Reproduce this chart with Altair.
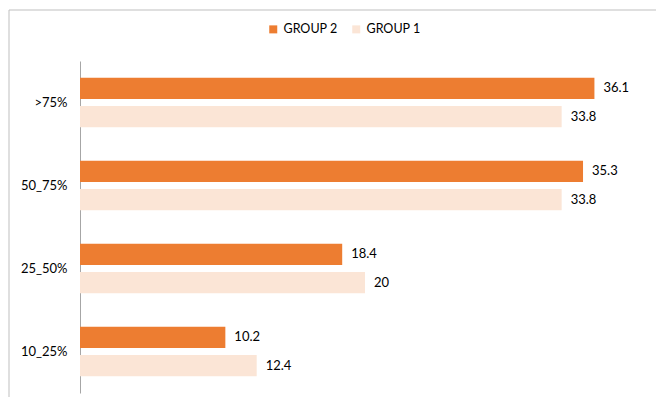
import altair as alt
import pandas as pd

categories = [">75%", "50_75%", "25_50%", "10_25%"]
groups = ["GROUP 2", "GROUP 1"]
group2 = [36.1, 35.3, 18.4, 10.2]
group1 = [33.8, 33.8, 20, 12.4]
colors = ["#ED7D31", "#FBE5D6"]

rows = []
for c, v2, v1 in zip(categories, group2, group1):
    rows.append({"cat": c, "group": "GROUP 2", "value": v2, "label": f"{v2:g}"})
    rows.append({"cat": c, "group": "GROUP 1", "value": v1, "label": f"{v1:g}"})
df = pd.DataFrame(rows)

FONT = "Lato"
W, H = 570, 332

y_enc = alt.Y("cat:N", sort=categories, title=None,
              scale=alt.Scale(paddingInner=0.406, paddingOuter=0.203),
              axis=alt.Axis(domainColor="#A6A6A6", ticks=False, labelPadding=13,
                            labelFontSize=13, labelFont=FONT, labelColor="#000000"))
yoff = alt.YOffset("group:N", sort=groups, scale=alt.Scale(paddingInner=0.25, paddingOuter=0))
x_enc = alt.X("value:Q", axis=None, scale=alt.Scale(domain=[0, 40]))

bars = alt.Chart(df).mark_bar().encode(
    x=x_enc, y=y_enc, yOffset=yoff,
    color=alt.Color("group:N", sort=groups,
                    scale=alt.Scale(domain=groups, range=colors),
                    legend=alt.Legend(title=None, orient="none", legendX=187, legendY=-38,
                                      direction="horizontal", symbolType="square",
                                      symbolSize=64, symbolStrokeWidth=0,
                                      labelFontSize=12.5, labelFont=FONT, labelColor="#000000",
                                      columnPadding=12, labelOffset=4)),
)

text = alt.Chart(df).mark_text(align="left", dx=9, fontSize=13, font=FONT, color="#000000").encode(
    x=x_enc, y=y_enc, yOffset=yoff, text="label:N"
)

frame = alt.Chart(pd.DataFrame({"a": [0]})).mark_rect(fill=None, stroke="#BFBFBF", strokeWidth=1).encode(
    x=alt.value(-71), x2=alt.value(W + 200), y=alt.value(-51), y2=alt.value(H + 200)
)

chart = alt.layer(frame, bars, text).properties(
    width=W, height=H,
    autosize=alt.AutoSizeParams(type="none"),
    padding={"left": 72, "top": 53, "right": 6, "bottom": 4},
).configure_view(stroke=None)

chart.save("out.html", embed_options={"renderer": "svg", "actions": False})
